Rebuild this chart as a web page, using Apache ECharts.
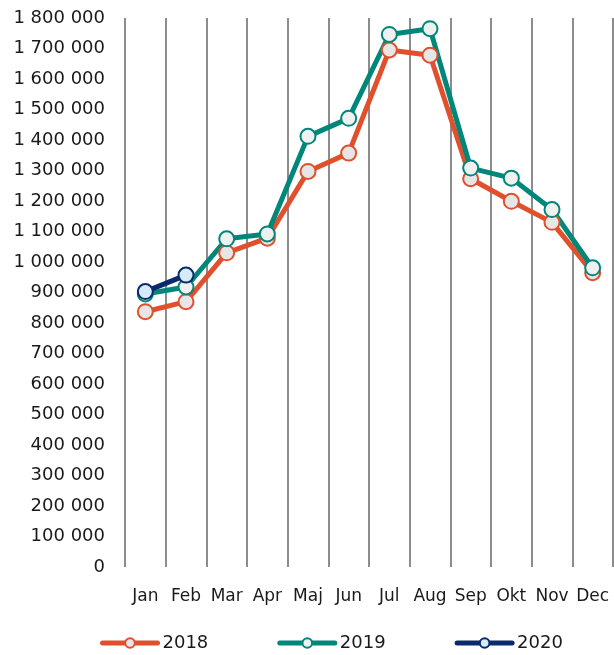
<!DOCTYPE html>
<html>
<head>
<meta charset="utf-8">
<script src="https://cdn.jsdelivr.net/npm/echarts@6/dist/echarts.min.js"></script>
<style>
  html, body { margin: 0; padding: 0; background: #fff; }
  #chart { width: 614px; height: 655px; }
</style>
</head>
<body>
<div id="chart"></div>
<script>
// månader och värden
var months = ['Jan', 'Feb', 'Mar', 'Apr', 'Maj', 'Jun', 'Jul', 'Aug', 'Sep', 'Okt', 'Nov', 'Dec'];
var values2018 = [837000, 870000, 1030000, 1078000, 1297000, 1357000, 1695000, 1678000, 1273000, 1199000, 1130000, 965000];
var values2019 = [895000, 918000, 1076000, 1092000, 1412000, 1471000, 1746000, 1765000, 1308000, 1275000, 1172000, 981000];
var values2020 = [903000, 957000];

var font = 'DejaVu Sans';

function fmt(v) {
    return String(v).replace(/\B(?=(\d{3})+(?!\d))/g, ' ');
}

function makeSeries(name, data, color, fill) {
    return {
        name: name,
        type: 'line',
        data: data,
        symbol: 'circle',
        symbolSize: 15,
        lineStyle: { color: color, width: 5 },
        itemStyle: { color: fill, borderColor: color, borderWidth: 2 },
        emphasis: { disabled: true },
        animation: false
    };
}

var chart = echarts.init(document.getElementById('chart'));
chart.setOption({
    animation: false,
    grid: { left: 125, right: 1, top: 18, bottom: 88 },
    legend: {
        top: 629,
        left: 95,
        itemWidth: 55,
        itemHeight: 12,
        itemGap: 69,
        lineStyle: { width: 5, cap: 'round' },
        textStyle: { fontFamily: font, fontSize: 18, color: '#1a1a1a' },
        data: ['2018', '2019', '2020']
    },
    xAxis: {
        type: 'category',
        data: months,
        boundaryGap: true,
        axisLine: { show: false },
        axisTick: { show: false },
        axisLabel: { fontFamily: font, fontSize: 17, color: '#1a1a1a', margin: 21, interval: 0 },
        splitLine: { show: true, lineStyle: { color: '#8c8c8c', width: 2 } }
    },
    yAxis: {
        type: 'value',
        min: 0,
        max: 1800000,
        interval: 100000,
        axisLine: { show: false },
        axisTick: { show: false },
        splitLine: { show: false },
        axisLabel: { fontFamily: font, fontSize: 18, color: '#1a1a1a', margin: 20, formatter: fmt }
    },
    series: [
        makeSeries('2018', values2018, '#e0502d', '#e6e6e6'),
        makeSeries('2019', values2019, '#00877a', '#f0f0f0'),
        makeSeries('2020', values2020, '#0b2a6b', '#d5ebf8')
    ]
});
</script>
</body>
</html>
